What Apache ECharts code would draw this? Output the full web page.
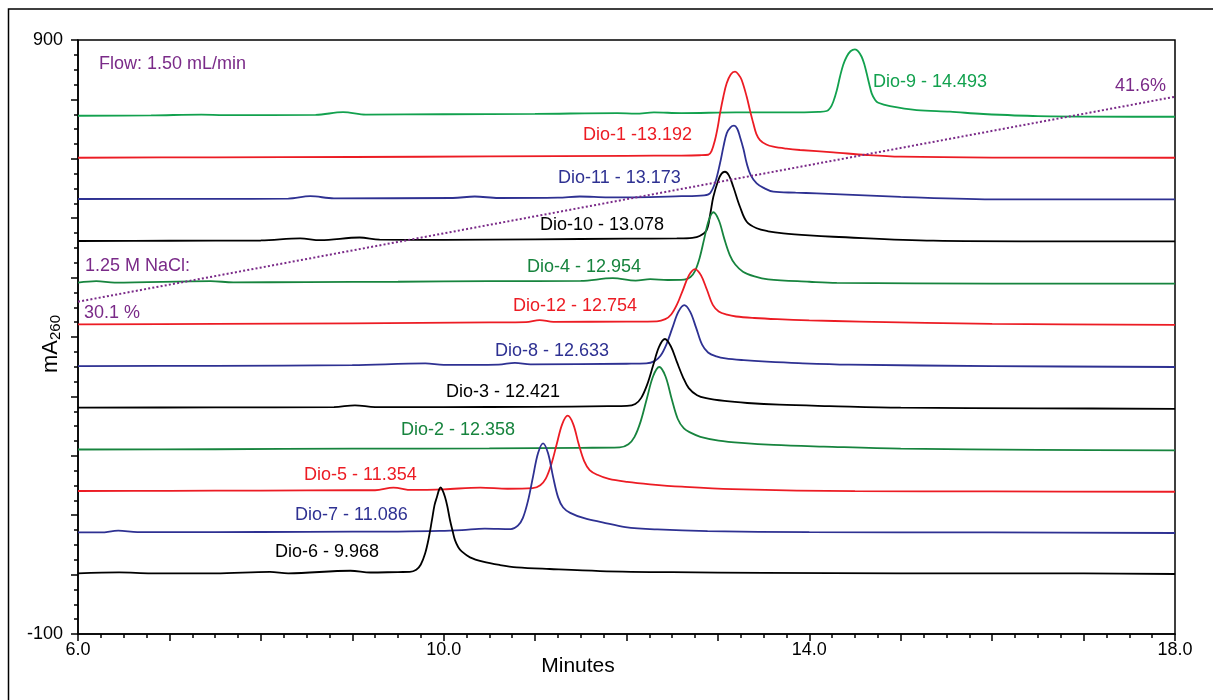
<!DOCTYPE html>
<html>
<head>
<meta charset="utf-8">
<script src="https://cdn.jsdelivr.net/npm/echarts@6/dist/echarts.min.js"></script>
<style>
html,body{margin:0;padding:0;background:#fff;}
#chart{width:1213px;height:700px;}
</style>
</head>
<body>
<div id="chart"></div>
<script>
// ---------------- DATA (minutes, mA260) ----------------
const dio9 = [[6.0,772.5],[6.8,773],[7.35,774.5],[7.6,773.5],[8.6,774],[8.9,778.5],[9.15,774.5],[10.0,775],[11.0,775.5],[11.9,777],[12.1,776],[12.3,778],[12.6,777],[13.2,778],[13.8,778],[14.1,779],[14.19,780.5],[14.23,786],[14.262,796.1],[14.3,815],[14.335,838.2],[14.37,858],[14.408,871.8],[14.45,881],[14.499,884.3],[14.535,881],[14.572,871.8],[14.6,860],[14.627,843.9],[14.655,826],[14.682,810.2],[14.72,799],[14.754,794.4],[14.882,788.8],[15.174,782.1],[15.539,779.3],[15.903,775.4],[16.5,772],[18.0,770.8]];
const dio1 = [[6.0,701.8],[7.5,702.5],[9.0,703],[10.5,704],[12.0,705],[12.6,705.5],[12.8,706],[12.895,706.8],[12.93,713],[12.968,731.6],[13.0,755],[13.023,776.6],[13.06,805],[13.096,827.1],[13.14,842],[13.187,846.6],[13.225,842],[13.26,832.6],[13.315,804.5],[13.35,782],[13.387,759.7],[13.42,742],[13.46,731.6],[13.53,724],[13.606,720.3],[13.75,717],[13.898,714.8],[14.262,710.9],[14.627,706.4],[15.0,703.5],[16.0,702],[18.0,701.8]];
const dio11 = [[6.0,632.3],[7.5,632.5],[8.3,633],[8.54,637],[8.8,633.5],[10.1,634],[10.34,636.5],[10.6,634],[11.25,634.5],[11.49,636.5],[11.8,635],[12.6,637],[12.85,638.5],[12.913,641.9],[12.97,660],[13.023,692.4],[13.06,720],[13.096,742.9],[13.14,753.5],[13.176,755.7],[13.21,751],[13.241,737.2],[13.28,716],[13.315,692.4],[13.36,672],[13.424,658.7],[13.5,651],[13.606,644.6],[13.85,643],[14.08,641.9],[15.0,636],[16.086,631.8],[18.0,631.8]];
const dio10 = [[6.0,561.6],[7.0,562],[8.0,562.5],[8.43,566],[8.65,563],[9.08,567.5],[9.3,564],[10.0,563.5],[11.0,564.5],[12.0,565.5],[12.55,566],[12.72,567],[12.80,570],[12.877,580],[12.915,606],[12.95,636],[13.004,664],[13.04,675],[13.077,678.2],[13.12,672],[13.168,653],[13.241,619.3],[13.315,594],[13.424,583],[13.55,578],[13.715,574.5],[14.0,571],[14.262,568.8],[15.356,562.1],[16.5,561],[18.0,561]];
const dio4 = [[6.0,491.4],[6.2,494],[6.4,491.5],[7.45,494],[7.7,492],[8.5,492.5],[9.5,493],[10.5,494],[11.5,494.5],[11.85,499],[12.1,495],[12.26,497.5],[12.45,496],[12.63,496.6],[12.70,501.1],[12.75,511.4],[12.80,533.1],[12.85,565.2],[12.90,596.5],[12.95,610],[13.01,596.5],[13.07,565.2],[13.13,538],[13.19,522],[13.274,510],[13.4,502],[13.55,497],[14.0,493],[14.3,491],[16.0,490],[18.0,490]];
const dio12 = [[6.0,421.3],[7.5,422],[9.0,423],[10.5,424.5],[10.9,425],[11.05,428.5],[11.2,425.5],[12.0,426],[12.333,426.4],[12.424,430],[12.489,437.9],[12.554,455.2],[12.619,479.9],[12.684,504.2],[12.749,514.4],[12.814,504.2],[12.879,479.9],[12.944,454],[13.009,443],[13.1,437.5],[13.199,434.5],[13.399,432],[13.649,430],[13.999,428],[14.549,426],[16.0,422],[18.0,420.5]];
const dio8 = [[6.0,351.1],[7.5,351.5],[9.0,352.5],[9.8,355.5],[10.0,353],[10.6,353.5],[10.78,356.5],[10.95,354],[12.0,355],[12.216,355.5],[12.307,359.4],[12.372,368.3],[12.437,387.6],[12.502,415.3],[12.567,442.4],[12.632,453.8],[12.697,442.4],[12.762,415.3],[12.827,387],[12.892,374],[12.983,367.5],[13.082,364],[13.282,361],[13.532,358.5],[13.882,356],[14.432,353.5],[16.0,351],[18.0,349.5]];
const dio3 = [[6.0,281],[7.5,281.5],[8.8,282],[9.03,285],[9.25,282],[10.0,282],[11.0,282.5],[11.8,283.5],[12.005,284],[12.096,287.2],[12.161,297.5],[12.226,319.8],[12.291,351.9],[12.356,383.4],[12.421,396.6],[12.486,384],[12.551,358],[12.616,333],[12.681,314],[12.772,302],[12.871,297],[13.071,292.3],[13.321,288.9],[13.671,286],[14.221,283.7],[15.0,281],[16.5,280],[18.0,279]];
const dio2 = [[6.0,210.6],[7.5,211],[9.0,212],[10.5,212.5],[11.5,213.5],[11.926,214.2],[12.021,219.6],[12.088,231.9],[12.156,258.4],[12.223,296.5],[12.291,333.9],[12.358,349.5],[12.426,333.9],[12.493,296.5],[12.561,262],[12.628,246],[12.70,239],[12.808,232],[13.008,225.7],[13.258,221.7],[13.608,218.3],[14.158,215.5],[15.0,212],[16.5,210],[18.0,209]];
const dio5 = [[6.0,140.7],[7.0,141],[8.0,141.5],[9.0,142],[9.25,142],[9.45,146.5],[9.65,142.5],[10.0,143.5],[10.4,146.5],[10.7,144.5],[10.973,145.6],[11.057,150.5],[11.117,161.5],[11.177,185.4],[11.237,219.7],[11.297,253.4],[11.357,267.5],[11.417,253.4],[11.477,219.7],[11.537,191],[11.597,176],[11.681,168],[11.807,161],[12.007,156],[12.257,152],[12.607,148],[13.157,144],[14.5,140.5],[16.0,140],[18.0,139.5]];
const dio7 = [[6.0,71.2],[6.25,71],[6.44,74],[6.65,71.5],[7.5,71.5],[8.5,72],[9.5,72.5],[9.96,73.5],[10.2,75],[10.45,77.5],[10.735,76.7],[10.812,82.5],[10.867,95.6],[10.922,123.9],[10.977,164.5],[11.032,204.3],[11.087,221],[11.142,204.3],[11.197,164.5],[11.252,130],[11.307,113],[11.384,104],[11.537,94.9],[11.737,88],[11.987,80],[12.337,76],[12.887,73.2],[14.0,71.5],[16.0,71],[18.0,70]];
const dio6 = [[6.0,2.1],[6.45,3.6],[6.8,2.2],[7.5,2.0],[8.1,4.5],[8.3,2.2],[8.98,6.5],[9.2,3.5],[9.5,4.3],[9.63,4.5],[9.70,8],[9.75,17],[9.796,35],[9.835,60],[9.872,92],[9.90,117],[9.927,131],[9.95,143],[9.967,147],[9.985,143],[10.014,131],[10.04,115],[10.069,92],[10.10,72],[10.124,58],[10.16,46],[10.197,39],[10.288,29],[10.43,21.7],[10.616,16.1],[10.80,12.3],[11.16,9.4],[11.71,6.0],[12.5,4],[13.5,3],[15.0,2],[17.0,2],[18.0,1.0]];
const gradient = [[6.0,459.4],[18.0,804.5]];

const traceNames = ['Dio-9','Dio-1','Dio-11','Dio-10','Dio-4','Dio-12','Dio-8','Dio-3','Dio-2','Dio-5','Dio-7','Dio-6'];
const traceData  = [dio9, dio1, dio11, dio10, dio4, dio12, dio8, dio3, dio2, dio5, dio7, dio6];
const peakLabels = ['Dio-9 - 14.493','Dio-1 -13.192','Dio-11 - 13.173','Dio-10 - 13.078','Dio-4 - 12.954','Dio-12 - 12.754','Dio-8 - 12.633','Dio-3 - 12.421','Dio-2 - 12.358','Dio-5 - 11.354','Dio-7 - 11.086','Dio-6 - 9.968'];
const xTickLabels = [6, 10, 14, 18];
const yTickLabels = [900, -100];

// ---------------- STYLE / LAYOUT ----------------
const GREEN = '#12a14e', DKGREEN = '#17843e', RED = '#ec1c24', BLUE = '#2e3192', BLACK = '#000000', PURPLE = '#7a2a88';
const traceColors = [GREEN, RED, BLUE, BLACK, DKGREEN, RED, BLUE, BLACK, DKGREEN, RED, BLUE, BLACK];
// label anchors (left edge, vertical centre) in data coordinates
const labelAnchors = [[14.696,829],[11.524,740],[11.251,667],[11.054,588],[10.911,518],[10.758,452],[10.561,377],[10.026,308],[9.533,244],[8.472,167],[8.374,101],[8.155,38]];
const notes = [
  {text:'Flow: 1.50 mL/min', at:[6.23,860]},
  {text:'1.25 M NaCl:', at:[6.077,519]},
  {text:'30.1 %', at:[6.066,441]},
  {text:'41.6%', at:[17.344,823]}
];
const FONT = '"Liberation Sans", Arial, Helvetica, sans-serif';

const chart = echarts.init(document.getElementById('chart'), null, {renderer:'canvas'});

const series = traceData.map((d, i) => ({
  type: 'line', name: traceNames[i], data: d, showSymbol: false, smooth: 0.35,
  lineStyle: {color: traceColors[i], width: 1.8}, itemStyle:{color: traceColors[i]},
  silent: true, z: 3
}));
series.push({
  type:'line', name:'gradient', data: gradient, showSymbol:false, silent:true, z:4,
  lineStyle:{color: PURPLE, width: 2, type:[2,2.2]}
});
series.push({
  type:'scatter', symbolSize:0, silent:true, z:5, itemStyle:{opacity:1},
  data: labelAnchors.map((a,i)=>({value:a, label:{formatter: peakLabels[i], color: traceColors[i]}})),
  label:{show:true, position:'right', distance:0, fontSize:18, fontFamily:FONT, opacity:1}
});
series.push({
  type:'scatter', symbolSize:0, silent:true, z:5, itemStyle:{opacity:1},
  data: notes.map(n=>({value:n.at, label:{formatter:n.text}})),
  label:{show:true, position:'right', distance:0, fontSize:18, fontFamily:FONT, color: PURPLE, opacity:1}
});

chart.setOption({
  animation:false,
  backgroundColor:'#fff',
  grid:{left:78, right:38, top:40, bottom:66, show:true, borderColor:'#000', borderWidth:1.5},
  xAxis:{
    type:'value', min:6, max:18, interval:1,
    axisLine:{onZero:false, lineStyle:{color:'#000', width:1.5}},
    axisTick:{show:true, length:7, lineStyle:{color:'#000', width:1.5}},
    minorTick:{show:true, splitNumber:4, length:4, lineStyle:{color:'#000', width:1.5}},
    splitLine:{show:false},
    axisLabel:{margin:7, fontSize:18, fontFamily:FONT, color:'#000',
      formatter: v => xTickLabels.indexOf(v) >= 0 ? v.toFixed(1) : ''}
  },
  yAxis:{
    type:'value', min:-100, max:900, interval:100,
    axisLine:{onZero:false, lineStyle:{color:'#000', width:1.5}},
    axisTick:{show:true, length:7, lineStyle:{color:'#000', width:1.5}},
    minorTick:{show:true, splitNumber:4, length:4, lineStyle:{color:'#000', width:1.5}},
    splitLine:{show:false},
    axisLabel:{margin:15, fontSize:18, fontFamily:FONT, color:'#000', padding:[4,0,0,0],
      formatter: v => yTickLabels.indexOf(v) >= 0 ? String(v) : ''}
  },
  graphic:[
    {type:'rect', shape:{x:8.5, y:9, width:1230, height:720}, style:{fill:null, stroke:'#000', lineWidth:1.5}, silent:true, z:-1},
    {type:'text', x:578, y:666, silent:true,
      style:{text:'Minutes', fontSize:21, fontFamily:FONT, fill:'#000', align:'center', verticalAlign:'middle'}},
    {type:'text', x:51, y:344, rotation:Math.PI/2, silent:true,
      style:{text:'{a|mA}{b|260}', align:'center', verticalAlign:'middle', fill:'#000', fontFamily:FONT,
        rich:{a:{fontSize:22, lineHeight:24, fontFamily:FONT, fill:'#000'},
              b:{fontSize:15, lineHeight:15, verticalAlign:'bottom', fontFamily:FONT, fill:'#000'}}}}
  ],
  series: series
});
</script>
</body>
</html>
